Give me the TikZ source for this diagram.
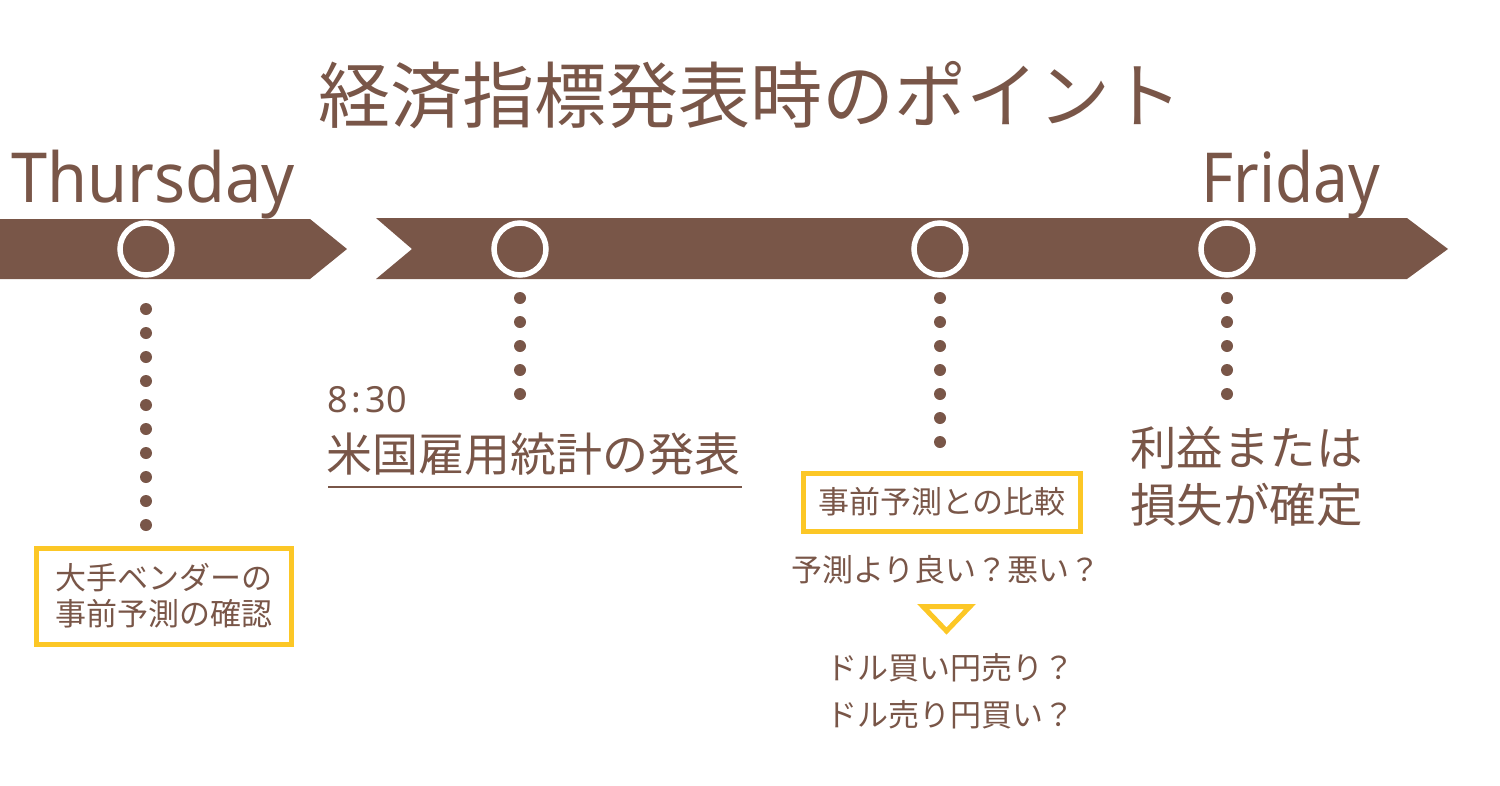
\documentclass[tikz,border=0pt]{standalone}
\usepackage{fontspec}
\setmainfont{Noto Sans}
\newfontfamily\jp{Noto Sans CJK JP}
\definecolor{brn}{RGB}{121,86,72}
\definecolor{ylw}{RGB}{252,199,38}
\begin{document}
\begin{tikzpicture}[x=1pt,y=-1pt,
  jt/.style={font=\jp\fontsize{#1}{#1}\selectfont, text=brn, inner sep=0pt,
    text height={0.88*#1pt}, text depth={0.12*#1pt}},
  lt/.style={font=\fontsize{#1}{#1}\selectfont, text=brn, inner sep=0pt},
  ring/.style={circle, draw=white, line width=5.5pt, minimum size=52pt, inner sep=0pt},
  dotline/.style={draw=brn, line width=12pt, line cap=round, dash pattern=on 0pt off 24pt},
  ybox/.style={draw=ylw, line width=5pt, inner sep=0pt},
]
\useasboundingbox (0,0) rectangle (1500,785);

% title
\node[jt=72] (title) at (750,95) {経済指標発表時のポイント};
\node[lt=69, anchor=base west] (thu) at (11,202) {\scalebox{0.94}[1]{Thursday}};
\node[lt=69, anchor=base west] (fri) at (1201,202) {\scalebox{0.9}[1]{Friday}};

% bars
\fill[brn] (0,219) -- (310,219) -- (347,249) -- (310,279) -- (0,279) -- cycle;
\fill[brn] (376,218) -- (1407,218) -- (1448,249) -- (1407,279) -- (376,279) -- (412,249) -- cycle;

% rings
\node[ring] (c1) at (146,249) {};
\node[ring] (c2) at (520,249) {};
\node[ring] (c3) at (940,249) {};
\node[ring] (c4) at (1227,249) {};

% dotted connectors
\coordinate (d1a) at (146,309); \coordinate (d1b) at (146,526);
\coordinate (d2a) at (520,298); \coordinate (d2b) at (520,395);
\coordinate (d3a) at (940,298); \coordinate (d3b) at (940,443);
\coordinate (d4a) at (1227,298); \coordinate (d4b) at (1227,395);
\draw[dotline] (d1a) -- (d1b);
\draw[dotline] (d2a) -- (d2b);
\draw[dotline] (d3a) -- (d3b);
\draw[dotline] (d4a) -- (d4b);

% box 1
\node[ybox, minimum width=255pt, minimum height=96pt] (b1) at (164,596.5) {};
\node[jt=31] (b1t1) at (164,578) {大手ベンダーの};
\node[jt=31] (b1t2) at (164,614) {事前予測の確認};

% 8:30 announcement
\node[lt=36, anchor=base west] (time) at (327,412) {8\hspace{4pt}:\hspace{4pt}30};
\node[jt=46, anchor=west] (ann) at (326,454) {米国雇用統計の発表};
\coordinate (ul1) at (328,487); \coordinate (ul2) at (742,487);
\draw[brn, line width=2.5pt] (ul1) -- (ul2);

% box 2
\node[ybox, minimum width=277pt, minimum height=58pt] (b2) at (942,502.5) {};
\node[jt=31] (b2t) at (942,502) {事前予測との比較};
\node[jt=31] (q1) at (946,570) {予測より良い？悪い？};
\draw[ylw, line width=5pt] (923,606.5) -- (970,606.5) -- (946.5,631) -- cycle;
\node[jt=31] (q2) at (950,668) {ドル買い円売り？};
\node[jt=31] (q3) at (950,715) {ドル売り円買い？};

% result
\node[jt=46.5, anchor=west] (r1) at (1130,448) {利益または};
\node[jt=46.5, anchor=west] (r2) at (1130,505) {損失が確定};
\end{tikzpicture}
\end{document}
